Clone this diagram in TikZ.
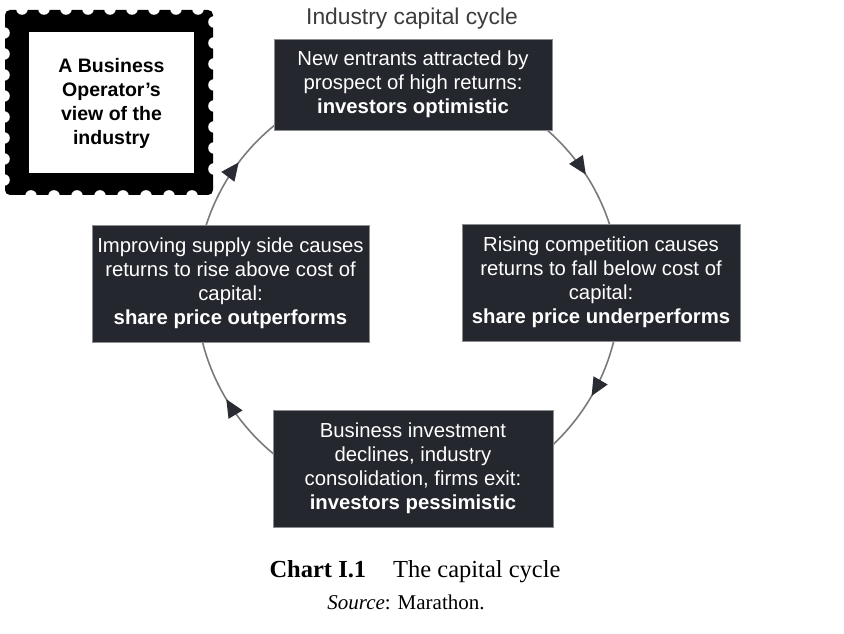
\documentclass[tikz,border=0pt]{standalone}
\usepackage{fontspec}
\setmainfont{Liberation Sans}
\newfontfamily\capfont{Liberation Serif}
\usetikzlibrary{arrows.meta,decorations.markings,calc}
\definecolor{boxfill}{HTML}{25272E}
\definecolor{boxedge}{HTML}{8A8C90}
\definecolor{cycgray}{HTML}{7A7A7A}
\definecolor{arrowfill}{HTML}{2A2C33}
\definecolor{titlegray}{HTML}{3C3C3C}
\tikzset{
  phase/.style={fill=boxfill, draw=boxedge, line width=0.8pt, text=white,
    align=center, inner sep=0pt, font=\fontsize{20.3}{24}\selectfont},
  cyc/.style={draw=cycgray, line width=1.6pt,
    postaction={decorate, decoration={markings,
      mark=at position 0.5 with {\arrow[arrowfill]{Triangle[length=18pt,width=16pt]}}}}},
  notch/.style={fill=white, draw=none},
}
\begin{document}
\begin{tikzpicture}[x=1pt,y=1pt]
\useasboundingbox (0,0) rectangle (844,634);
\fill[white] (0,0) rectangle (844,634);
% circle centre
\coordinate (c) at (408,344);
% cycle arcs
\draw[cyc] ($(c)+(58:212pt)$) arc[start angle=58, end angle=8, radius=212pt];
\draw[cyc] ($(c)+(-6:212pt)$) arc[start angle=-6, end angle=-54, radius=212pt];
\draw[cyc] ($(c)+(-125:212pt)$) arc[start angle=-125, end angle=-173, radius=212pt];
\draw[cyc] ($(c)+(167:212pt)$) arc[start angle=167, end angle=119, radius=212pt];
% title
\node[text=titlegray, font=\fontsize{22.8}{26}\selectfont] (title) at (412,615) {Industry capital cycle};
% boxes
\node[phase, minimum width=278pt, minimum height=91pt] (top) at (413,549.5)
  {New entrants attracted by\\prospect of high returns:\\\textbf{investors optimistic}};
\node[phase, minimum width=277pt, minimum height=117pt] (left) at (230.5,350.5)
  {Improving supply side causes\\returns to rise above cost of\\capital:\\\textbf{share price outperforms}};
\node[phase, minimum width=278pt, minimum height=117pt] (right) at (601,351.5)
  {Rising competition causes\\returns to fall below cost of\\capital:\\\textbf{share price underperforms}};
\node[phase, minimum width=280pt, minimum height=117pt] (bottom) at (413,165.5)
  {Business investment\\declines, industry\\consolidation, firms exit:\\\textbf{investors pessimistic}};
% stamp
\fill[black, rounded corners=5pt] (5,439) rectangle (213,624);
\foreach \i in {0,...,8} \fill[notch] (22+22*\i,625) circle (5.8pt);
\foreach \i in {0,...,7} \fill[notch] (31+23*\i,438) circle (5.8pt);
\foreach \i in {0,...,7} \fill[notch] (4,601-21*\i) circle (5.8pt);
\foreach \i in {0,...,7} \fill[notch] (214,612-21*\i) circle (5.8pt);
\fill[white] (29,461) rectangle (194,602);
\node[align=center, font=\bfseries\fontsize{19.5}{24}\selectfont] (stamp) at (111.5,531)
  {A Business\\Operator's\\view of the\\industry};
% caption
\node[anchor=base, font=\capfont\fontsize{24.5}{28}\selectfont] (caption) at (415,56)
  {\textbf{Chart I.1}\hspace{27pt}The capital cycle};
\node[anchor=base, font=\capfont\fontsize{21}{25}\selectfont] (source) at (406,24)
  {\textit{Source}: Marathon.};
\end{tikzpicture}
\end{document}
